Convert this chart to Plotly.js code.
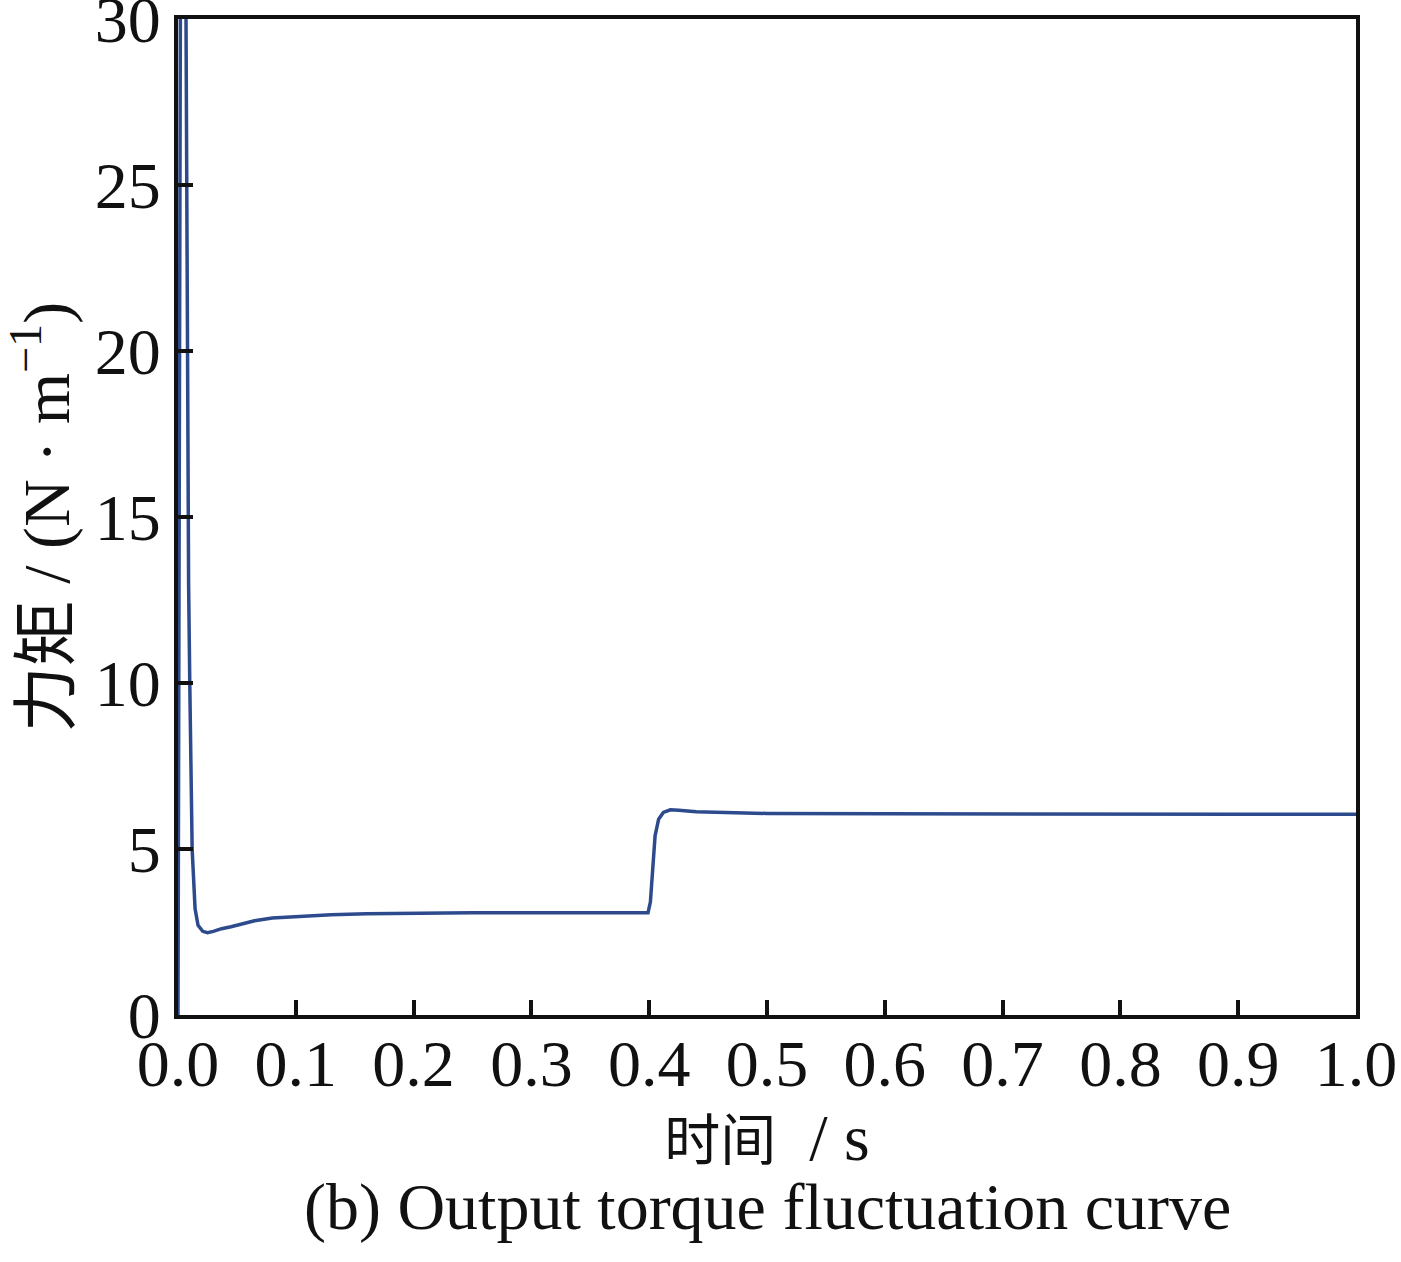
<!DOCTYPE html>
<html>
<head>
<meta charset="utf-8">
<script src="https://cdn.plot.ly/plotly-3.0.1.min.js"></script>
<style>
html,body{margin:0;padding:0;background:#fff;}
#chart{width:1401px;height:1262px;}
</style>
</head>
<body>
<div id="chart"></div>
<script>
// time (s)
const timeS = [0, 0.004, 0.0068, 0.008, 0.009, 0.010, 0.012, 0.0145, 0.017, 0.021, 0.025, 0.030, 0.037, 0.045, 0.055, 0.065, 0.080, 0.100, 0.130, 0.160, 0.200, 0.250, 0.300, 0.350, 0.399, 0.401, 0.403, 0.405, 0.408, 0.412, 0.418, 0.425, 0.440, 0.470, 0.500, 0.600, 0.700, 0.800, 0.900, 1.000];
// torque (N·m^-1)
const torque = [0, 60, 30, 20, 13, 10, 5, 3.2, 2.7, 2.52, 2.48, 2.52, 2.6, 2.66, 2.76, 2.84, 2.92, 2.97, 3.02, 3.05, 3.07, 3.08, 3.08, 3.08, 3.08, 3.4, 4.6, 5.4, 5.9, 6.1, 6.18, 6.17, 6.12, 6.09, 6.07, 6.06, 6.05, 6.05, 6.05, 6.05];

const xTicks = [0, 0.1, 0.2, 0.3, 0.4, 0.5, 0.6, 0.7, 0.8, 0.9, 1.0];
const xTickText = ['0.0','0.1','0.2','0.3','0.4','0.5','0.6','0.7','0.8','0.9','1.0'];
const yTicks = [0, 5, 10, 15, 20, 25, 30];
const yTickText = ['0','5','10','15','20','25','30'];

const serif = '"Liberation Serif", "Times New Roman", "Noto Sans CJK SC", serif';

const trace = {
  x: timeS, y: torque, type: 'scatter', mode: 'lines',
  line: {color: '#2d4a8c', width: 3.5},
  hoverinfo: 'none'
};

const layout = {
  width: 1401, height: 1262,
  margin: {l: 178, r: 45, t: 19, b: 247},
  paper_bgcolor: '#fff', plot_bgcolor: '#fff',
  showlegend: false,
  font: {family: serif, color: '#111', size: 66},
  xaxis: {
    range: [0, 1], tickvals: xTicks, ticktext: xTickText,
    showgrid: false, zeroline: false,
    showline: true, linecolor: '#111', linewidth: 4, mirror: true,
    ticks: 'inside', ticklen: 15, tickwidth: 4, tickcolor: '#111',
    ticklabelstandoff: -12, ticklabeloverflow: 'allow',
    tickfont: {family: serif, size: 66, color: '#111'},
    title: {text: '<span style="font-size:56px">时间</span>&nbsp;&nbsp;/ s', font: {family: serif, size: 66, color: '#111'}, standoff: 16}
  },
  yaxis: {
    range: [0, 30], tickvals: yTicks, ticktext: yTickText,
    showgrid: false, zeroline: false,
    showline: true, linecolor: '#111', linewidth: 4, mirror: true,
    ticks: 'inside', ticklen: 15, tickwidth: 4, tickcolor: '#111',
    ticklabeloverflow: 'allow',
    tickfont: {family: serif, size: 66, color: '#111'},
    title: {text: '力矩 / (N · m<sup>−1</sup>)', font: {family: serif, size: 66, color: '#111'}, standoff: 8}
  },
  annotations: [{
    text: '(b) Output torque fluctuation curve',
    xref: 'paper', yref: 'paper', x: 0.5, y: 0, yshift: -192,
    xanchor: 'center', yanchor: 'middle', showarrow: false,
    font: {family: serif, size: 66, color: '#111'}
  }]
};

Plotly.newPlot('chart', [trace], layout, {displayModeBar: false, staticPlot: true});
</script>
</body>
</html>
